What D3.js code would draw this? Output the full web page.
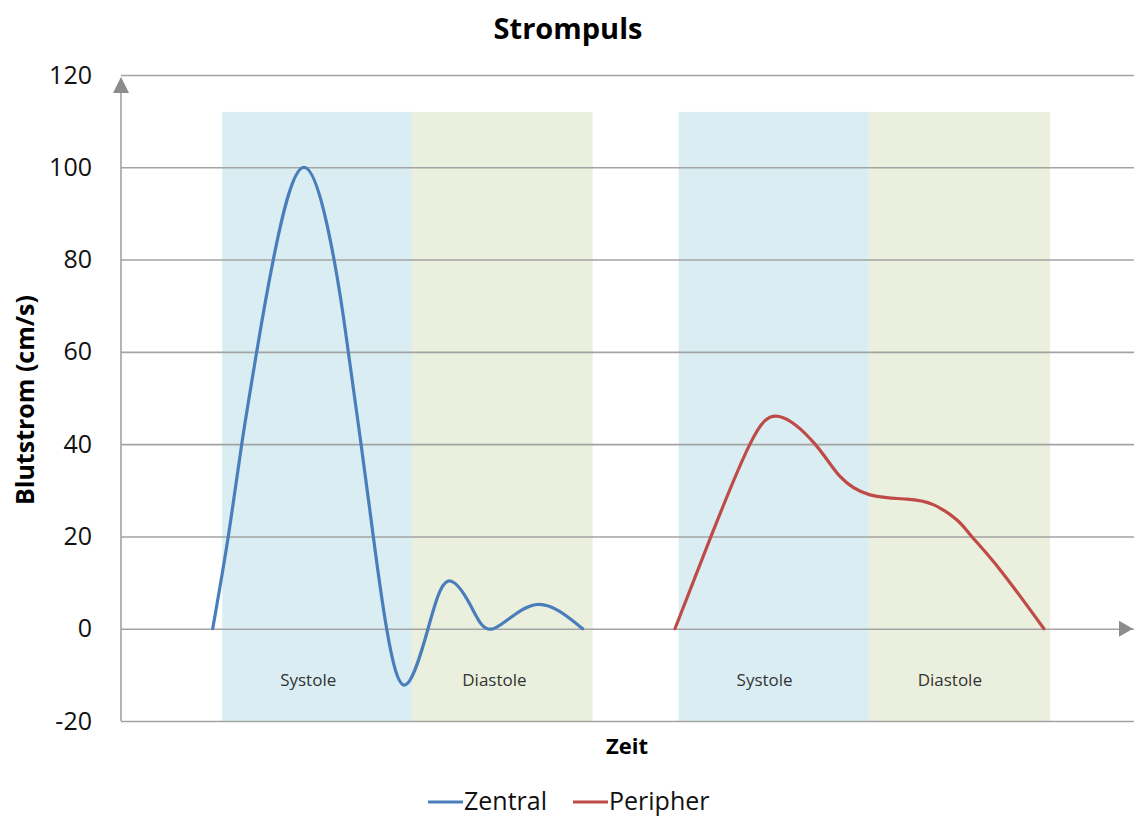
<!DOCTYPE html>
<html>
<head>
<meta charset="utf-8">
<script src="https://cdn.jsdelivr.net/npm/d3@7"></script>
<style>
  html, body { margin: 0; padding: 0; background: #fff; }
  svg { display: block; }
  text { font-family: "Open Sans", "Noto Sans", sans-serif; }
</style>
</head>
<body>
<svg id="chart" width="1134" height="818"></svg>
<script>
// Blood flow pulse: central vs. peripheral artery
const yTicks = [-20, 0, 20, 40, 60, 80, 100, 120];

// time (arbitrary units) and flow velocity (cm/s)
const zentralTime  = [9.06, 10.6, 11.93, 13.41, 15.05, 18.08, 21.05, 22.46, 23.72, 24.93, 26.25, 28.06, 30.34, 32.28, 34.6, 36.79, 40.91, 45.62];
const zentralFlow  = [0, 20, 40, 60, 80, 100, 80, 60, 40, 20, 0, -12.2, 0, 10.3, 4.8, 0, 5.2, 0];

const peripherTime = [54.74, 58.3, 62.15, 65.05, 68.58, 71.05, 74.01, 77.64, 80.26, 82.58, 84.06, 86.86, 91.2];
const peripherFlow = [0, 20, 40, 46, 40, 33, 29, 28.1, 26.9, 23.6, 20, 12.8, 0];

// cardiac phases
const phaseNames = ["Systole", "Diastole", "Systole", "Diastole"];
const phaseStart = [10, 28.75, 55.1, 73.9];
const phaseEnd   = [28.75, 46.6, 73.9, 91.8];
const phaseTop   = 112;
const phaseLabelTime = [18.5, 36.9, 63.6, 81.9];
const phaseLabelFlow = -11;

const seriesNames = ["Zentral", "Peripher"];

const svg = d3.select("#chart");
const W = 1134;
const mLeft = 121, mRight = 1133, mTop = 75, mBottom = 721;

const x = d3.scaleLinear().domain([0, 100]).range([mLeft, mRight]);
const y = d3.scaleLinear().domain([-20, 120]).range([mBottom, mTop]);

const phaseColor = ["#daedf3", "#eaf0dd", "#daedf3", "#eaf0dd"];

// phase bands
svg.append("g").selectAll("rect")
  .data(phaseNames)
  .join("rect")
  .attr("x", (d, i) => x(phaseStart[i]))
  .attr("width", (d, i) => x(phaseEnd[i]) - x(phaseStart[i]))
  .attr("y", y(phaseTop))
  .attr("height", y(-20) - y(phaseTop))
  .attr("fill", (d, i) => phaseColor[i]);

// horizontal gridlines + tick labels
const yAxis = d3.axisLeft(y)
  .tickValues(yTicks)
  .tickSize(-(W - mLeft))
  .tickPadding(29)
  .tickFormat(d => String(d));

const gy = svg.append("g")
  .attr("transform", `translate(${mLeft},0)`)
  .call(yAxis);
gy.select(".domain").remove();
gy.selectAll(".tick line").attr("stroke", "#a3a3a3").attr("stroke-width", 1.6);
gy.selectAll(".tick text")
  .attr("font-size", 25)
  .attr("fill", "#111")
  .style("font-family", "'Open Sans', sans-serif");

// vertical axis with arrow head
svg.append("line")
  .attr("x1", mLeft).attr("x2", mLeft)
  .attr("y1", y(-20)).attr("y2", mTop + 10)
  .attr("stroke", "#a3a3a3").attr("stroke-width", 1.6);
svg.append("path")
  .attr("d", `M${mLeft},${mTop + 2} L${mLeft - 8},${mTop + 18} L${mLeft + 8},${mTop + 18} Z`)
  .attr("fill", "#8c8c8c");

// time axis arrow at zero
svg.append("path")
  .attr("d", `M${mRight},${y(0)} L${mRight - 14},${y(0) - 8} L${mRight - 14},${y(0) + 8} Z`)
  .attr("fill", "#8c8c8c");

// phase labels
svg.append("g").selectAll("text")
  .data(phaseNames)
  .join("text")
  .attr("x", (d, i) => x(phaseLabelTime[i]))
  .attr("y", y(phaseLabelFlow))
  .attr("text-anchor", "middle")
  .attr("dominant-baseline", "central")
  .attr("font-size", 17)
  .attr("fill", "#333")
  .text(d => d);

// flow curves
const line = d3.line()
  .x(d => x(d[0]))
  .y(d => y(d[1]))
  .curve(d3.curveNatural);

const series = [
  { name: seriesNames[0], color: "#4a7ebb", pts: d3.zip(zentralTime, zentralFlow) },
  { name: seriesNames[1], color: "#be4b48", pts: d3.zip(peripherTime, peripherFlow) }
];

svg.append("g").selectAll("path")
  .data(series)
  .join("path")
  .attr("d", d => line(d.pts))
  .attr("fill", "none")
  .attr("stroke", d => d.color)
  .attr("stroke-width", 3.2)
  .attr("stroke-linejoin", "round")
  .attr("stroke-linecap", "round");

// titles
svg.append("text")
  .attr("x", 568).attr("y", 27)
  .attr("text-anchor", "middle").attr("dominant-baseline", "central")
  .attr("font-size", 29).attr("font-weight", "bold").attr("fill", "#000")
  .text("Strompuls");

svg.append("text")
  .attr("transform", "translate(24,400) rotate(-90)")
  .attr("text-anchor", "middle").attr("dominant-baseline", "central")
  .attr("font-size", 25).attr("font-weight", "bold").attr("fill", "#000")
  .text("Blutstrom (cm/s)");

svg.append("text")
  .attr("x", 627).attr("y", 745)
  .attr("text-anchor", "middle").attr("dominant-baseline", "central")
  .attr("font-size", 22).attr("font-weight", "bold").attr("fill", "#000")
  .text("Zeit");

// legend
const legendX = [428, 573];
const lg = svg.append("g").selectAll("g")
  .data(series)
  .join("g")
  .attr("transform", (d, i) => `translate(${legendX[i]},800)`);
lg.append("line")
  .attr("x1", 0).attr("x2", 35).attr("y1", 2).attr("y2", 2)
  .attr("stroke", d => d.color).attr("stroke-width", 3.2);
lg.append("text")
  .attr("x", 36).attr("y", 0)
  .attr("dominant-baseline", "central")
  .attr("font-size", 25).attr("fill", "#111")
  .text(d => d.name);
</script>
</body>
</html>
